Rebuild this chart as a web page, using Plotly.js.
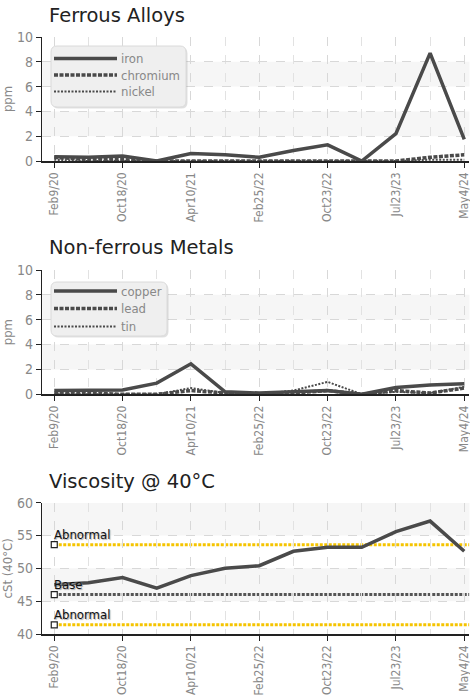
<!DOCTYPE html>
<html><head><meta charset="utf-8">
<script src="https://cdn.plot.ly/plotly-3.0.1.min.js"></script>
<style>html,body{margin:0;padding:0;background:#fff}#c{width:470px;height:695px}</style>
</head><body><div id="c"></div>
<script>
var idx = [0,1,2,3,4,5,6,7,8,9,10,11,12];
var tickPos = [0,2,4,6,8,10,12];
var tickLabels = ['Feb9/20','Oct18/20','Apr10/21','Feb25/22','Oct23/22','Jul23/23','May4/24'];
var iron     = [0.35,0.3,0.4,0.0,0.6,0.5,0.3,0.85,1.3,0.0,2.2,8.7,1.75];
var chromium = [0.3,0.1,0.1,0.0,0.0,0.0,0.0,0.0,0.0,0.0,0.0,0.3,0.5];
var nickel   = [0.1,0.0,0.0,0.0,0.0,0.0,0.0,0.0,0.0,0.0,0.0,0.1,0.1];
var copper   = [0.3,0.3,0.35,0.9,2.45,0.2,0.1,0.2,0.3,0.0,0.55,0.75,0.85];
var lead     = [0.1,0.1,0.0,0.0,0.3,0.1,0.0,0.1,0.3,0.0,0.3,0.1,0.5];
var tin      = [0.0,0.0,0.0,0.0,0.5,0.1,0.0,0.3,1.0,0.0,0.2,0.1,0.6];
var viscosity = [47.5,47.8,48.6,47.0,48.9,50.0,50.4,52.6,53.2,53.2,55.6,57.2,52.6];
var refNames = ['Abnormal','Base','Abnormal'];
var refValues = [53.6,46.0,41.4];
var ferrousNames = ['iron','chromium','nickel'];
var nonFerrousNames = ['copper','lead','tin'];

var dark = '#4a4a4a';
var tf = 'DejaVu Sans Condensed, DejaVu Sans, sans-serif';
var xr = [-0.35,12.15];
var xd = [42.3/470, 469.4/470];
var styles = [
  {color:dark, width:3.5},
  {color:dark, width:3.5, dash:'4px,1.5px'},
  {color:dark, width:2, dash:'2px,1.5px'}
];

function xax(anchor){
  return {domain:xd, range:xr, anchor:anchor, tickmode:'array', tickvals:tickPos, ticktext:tickLabels,
    tickangle:-90, ticks:'outside', ticklen:5, tickcolor:'#222', showline:true, linecolor:'#222', linewidth:1.5,
    showgrid:true, gridcolor:'#d8d8d8', griddash:'dash', zeroline:false, ticklabeloverflow:'allow',
    minor:{tickmode:'array', tickvals:[1,3,5,7,9,11], showgrid:true, gridcolor:'#e2e2e2', griddash:'dash', ticks:''},
    tickfont:{family:tf, size:12, color:'#888'}, fixedrange:true};
}
function yax(anchor, dom, rng, dt, title){
  return {domain:dom, range:rng, anchor:anchor, dtick:dt, tick0:rng[0], ticks:'outside', ticklen:5, tickcolor:'#222',
    showline:true, linecolor:'#222', linewidth:1.5, showgrid:true, gridcolor:'#d8d8d8', griddash:'dash', zeroline:false,
    tickfont:{family:tf, size:14, color:'#888'}, title:{text:title, font:{family:tf, size:13, color:'#888'}, standoff:2}};
}

var traces = [
  {x:idx, y:iron, name:ferrousNames[0], mode:'lines', line:styles[0], xaxis:'x', yaxis:'y'},
  {x:idx, y:chromium, name:ferrousNames[1], mode:'lines', line:styles[1], xaxis:'x', yaxis:'y'},
  {x:idx, y:nickel, name:ferrousNames[2], mode:'lines', line:styles[2], xaxis:'x', yaxis:'y'},
  {x:idx, y:copper, name:nonFerrousNames[0], mode:'lines', line:styles[0], xaxis:'x2', yaxis:'y2'},
  {x:idx, y:lead, name:nonFerrousNames[1], mode:'lines', line:styles[1], xaxis:'x2', yaxis:'y2'},
  {x:idx, y:tin, name:nonFerrousNames[2], mode:'lines', line:styles[2], xaxis:'x2', yaxis:'y2'},
  {x:idx, y:viscosity, name:'viscosity', mode:'lines', line:{color:dark, width:3.5}, xaxis:'x3', yaxis:'y3'}
];
var refColors = ['#f5c400', '#555555', '#f5c400'];
var shapes = [];
var annotations = [];
refValues.forEach(function(v,i){
  shapes.push({type:'line', xref:'x3', yref:'y3', x0:0, x1:12.15, y0:v, y1:v, layer:'below',
    line:{color:refColors[i], width:3, dash:'3px,1.5px'}});
  traces.push({x:[idx[0]], y:[v], mode:'markers', name:refNames[i], xaxis:'x3', yaxis:'y3', hoverinfo:'skip',
    marker:{symbol:'square', size:6, color:'#fff', line:{color:'#222', width:1.2}}});
  annotations.push({xref:'x3', yref:'y3', x:idx[0], y:v, xanchor:'left', yanchor:'bottom', xshift:-2, yshift:1,
    text:refNames[i], showarrow:false, font:{family:tf, size:13, color:'#111', shadow:'1px 1px 1px #aaa'}});
});
function band(xref, yref, a, b){
  shapes.push({type:'rect', xref:xref+' domain', yref:yref, x0:0, x1:1, y0:a, y1:b, layer:'below', fillcolor:'#f6f6f6', line:{width:0}});
}
band('x','y',6,8); band('x','y',2,4);
band('x2','y2',6,8); band('x2','y2',2,4);
band('x3','y3',55,60); band('x3','y3',45,50);

function P(x,y){ return (x/470)+','+(1-y/695); }
function legend(x0,y0,x1,y1,rows,names){
  var r=6;
  var mk=function(dx,dy){
    var a=x0+dx,b=y0+dy,c=x1+dx,d=y1+dy;
    return 'M'+P(a+r,b)+' L'+P(c-r,b)+' Q'+P(c,b)+' '+P(c,b+r)+' L'+P(c,d-r)+' Q'+P(c,d)+' '+P(c-r,d)+
      ' L'+P(a+r,d)+' Q'+P(a,d)+' '+P(a,d-r)+' L'+P(a,b+r)+' Q'+P(a,b)+' '+P(a+r,b)+' Z';
  };
  shapes.push({type:'path', xref:'paper', yref:'paper', path:mk(1.5,1.5), fillcolor:'rgba(0,0,0,0.12)', line:{width:0}, layer:'above'});
  shapes.push({type:'path', xref:'paper', yref:'paper', path:mk(0,0), fillcolor:'#efefef', line:{color:'#dadada', width:1}, layer:'above'});
  rows.forEach(function(ry,i){
    shapes.push({type:'line', xref:'paper', yref:'paper', x0:54/470, x1:117/470, y0:1-ry/695, y1:1-ry/695,
      line:styles[i], layer:'above'});
    annotations.push({xref:'paper', yref:'paper', x:119/470, y:1-ry/695, xanchor:'left', yanchor:'middle',
      text:names[i], showarrow:false, font:{family:tf, size:13, color:'#888'}});
  });
}
legend(51,46,186,107,[58.5,75,91.5],ferrousNames);
legend(51,282,167,336,[291,308.5,326.5],nonFerrousNames);

var titles = [['Ferrous Alloys',16],['Non-ferrous Metals',248],['Viscosity @ 40°C',481]];
titles.forEach(function(t){
  annotations.push({xref:'paper', yref:'paper', x:47/470, y:1-t[1]/695, xanchor:'left', yanchor:'middle', showarrow:false,
    text:t[0], font:{family:'DejaVu Sans, sans-serif', size:19.5, color:'#222'}});
});

var layout = {
  width:470, height:695, margin:{l:0,r:0,t:0,b:0}, paper_bgcolor:'#fff', plot_bgcolor:'#fff',
  showlegend:false,
  xaxis:xax('y'), xaxis2:xax('y2'), xaxis3:xax('y3'),
  yaxis:yax('x',[(695-161)/695,(695-37)/695],[0,10],2,'ppm'),
  yaxis2:yax('x2',[(695-394.3)/695,(695-270)/695],[0,10],2,'ppm'),
  yaxis3:yax('x3',[(695-634)/695,(695-502.7)/695],[40,60],5,'cSt (40°C)'),
  shapes:shapes, annotations:annotations
};
Plotly.newPlot('c', traces, layout, {displayModeBar:false, staticPlot:true});
</script></body></html>
